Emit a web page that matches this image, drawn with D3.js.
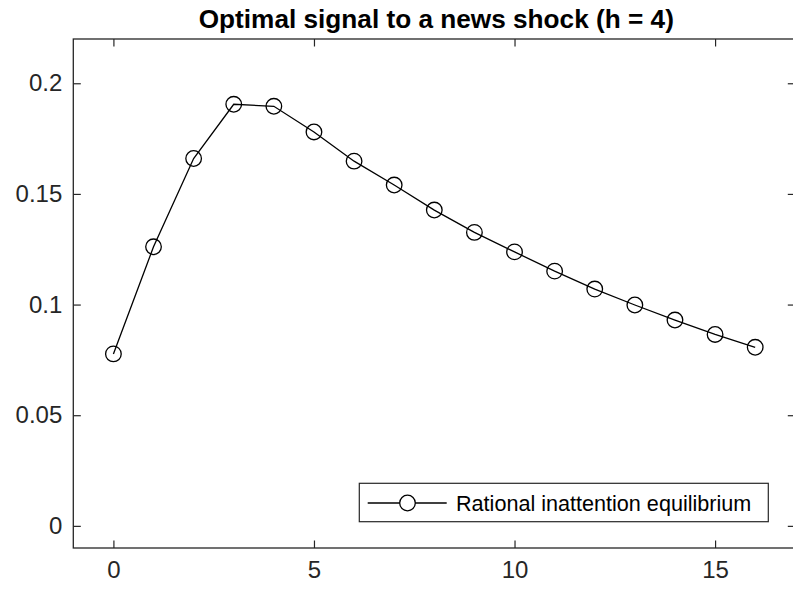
<!DOCTYPE html>
<html>
<head>
<meta charset="utf-8">
<script src="https://cdn.jsdelivr.net/npm/d3@7"></script>
<style>
html,body{margin:0;padding:0;background:#fff;}
svg{display:block;}
text{font-family:"Liberation Sans",Arial,Helvetica,sans-serif;}
</style>
</head>
<body>
<script>
// ---- data ----
const periods = [0,1,2,3,4,5,6,7,8,9,10,11,12,13,14,15,16];
const signal = [0.0777,0.1261,0.1660,0.1905,0.1896,0.1780,0.1648,0.1540,0.1427,0.1326,0.1238,0.1151,0.1070,0.0998,0.0930,0.0865,0.0807];
const xTicks = [0,5,10,15];
const yTicks = [0,0.05,0.1,0.15,0.2];
const yTickLabels = ["0","0.05","0.1","0.15","0.2"];
const titleText = "Optimal signal to a news shock (h = 4)";
const legendLabel = "Rational inattention equilibrium";

const W = 793, H = 591;
const mLeft = 73.3, mRight = 795.3, mTop = 39, mBottom = 548;
const axisColor = "#262626";

const svg = d3.select("body").append("svg").attr("width", W).attr("height", H);

const x = d3.scaleLinear().domain([-1,17]).range([mLeft,mRight]);
const y = d3.scaleLinear().domain([-0.01,0.22]).range([mBottom,mTop]);

// title
svg.append("text").attr("x",(mLeft+mRight)/2 + 2).attr("y",28)
  .attr("text-anchor","middle").attr("font-weight","bold").attr("font-size",26.2)
  .attr("fill","#000").text(titleText);

const tickLen = 7.5;
const gB = svg.append("g").attr("transform",`translate(0,${mBottom})`)
  .call(d3.axisBottom(x).tickValues(xTicks).tickSize(-tickLen).tickPadding(13).tickFormat(d3.format("d")));
const gT = svg.append("g").attr("transform",`translate(0,${mTop})`)
  .call(d3.axisTop(x).tickValues(xTicks).tickSize(-tickLen).tickFormat(""));
const gL = svg.append("g").attr("transform",`translate(${mLeft},0)`)
  .call(d3.axisLeft(y).tickValues(yTicks).tickSize(-tickLen).tickPadding(11).tickFormat((d,i)=>yTickLabels[i]));
const gR = svg.append("g").attr("transform",`translate(${mRight},0)`)
  .call(d3.axisRight(y).tickValues(yTicks).tickSize(-tickLen).tickFormat(""));

[gB,gT,gL,gR].forEach(g=>{
  g.select(".domain").remove();
  g.selectAll(".tick line").attr("stroke",axisColor).attr("stroke-width",1.2);
  g.selectAll(".tick text").attr("fill","#262626").attr("font-size",24)
   .attr("font-family","'Liberation Sans',Arial,sans-serif");
});
gB.selectAll(".tick text").attr("dy","0.71em");

svg.append("rect").attr("x",mLeft).attr("y",mTop).attr("width",mRight-mLeft).attr("height",mBottom-mTop)
  .attr("fill","none").attr("stroke",axisColor).attr("stroke-width",1.3);

const line = d3.line().x((d,i)=>x(periods[i])).y(d=>y(d));
svg.append("path").datum(signal).attr("d",line)
  .attr("fill","none").attr("stroke","#000").attr("stroke-width",1.3);

svg.append("g").selectAll("circle").data(signal).join("circle")
  .attr("cx",(d,i)=>x(periods[i])).attr("cy",d=>y(d)).attr("r",7.8)
  .attr("fill","none").attr("stroke","#000").attr("stroke-width",1.3);

const lg = svg.append("g");
lg.append("rect").attr("x",359.3).attr("y",483.3).attr("width",409).attr("height",38.4)
  .attr("fill","#fff").attr("stroke",axisColor).attr("stroke-width",1.2);
lg.append("line").attr("x1",367.7).attr("x2",446.7).attr("y1",503).attr("y2",503)
  .attr("stroke","#000").attr("stroke-width",1.3);
lg.append("circle").attr("cx",407.5).attr("cy",503).attr("r",7.8)
  .attr("fill","#fff").attr("stroke","#000").attr("stroke-width",1.3);
lg.append("text").attr("x",456).attr("y",503).attr("dy","0.35em")
  .attr("font-size",21.6).attr("fill","#000").text(legendLabel);
</script>
</body>
</html>
